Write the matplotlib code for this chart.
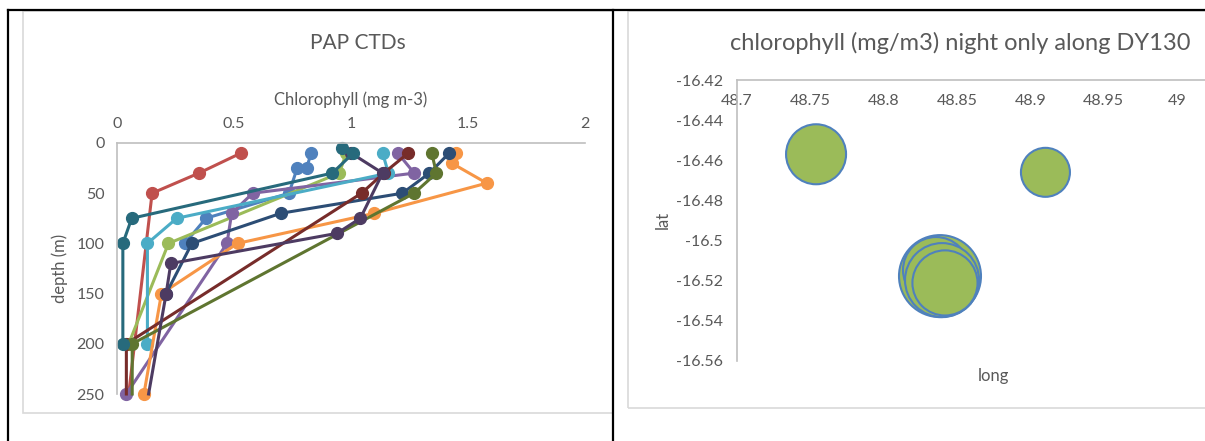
import matplotlib
matplotlib.use('Agg')
from matplotlib import pyplot as plt
from matplotlib.lines import Line2D
from matplotlib.patches import Rectangle

plt.rcParams['font.family'] = ['Lato', 'DejaVu Sans']

# ---- left chart: chlorophyll profiles (PAP CTDs) ----
blue_d = [10, 25, 25, 50, 75, 100]
blue_c = [0.83, 0.81, 0.77, 0.735, 0.38, 0.29]
red_d = [10, 30, 50, 250]
red_c = [0.53, 0.35, 0.15, 0.05]
green_d = [10, 30, 100, 200]
green_c = [0.98, 0.95, 0.22, 0.05]
purple_d = [10, 30, 50, 70, 100, 250]
purple_c = [1.2, 1.27, 0.58, 0.49, 0.47, 0.04]
aqua_d = [10, 30, 75, 100, 200]
aqua_c = [1.135, 1.16, 0.255, 0.13, 0.13]
orange_d = [10, 20, 40, 70, 100, 150, 250]
orange_c = [1.45, 1.43, 1.58, 1.10, 0.515, 0.19, 0.115]
dkblue_d = [10, 30, 50, 70, 100, 150]
dkblue_c = [1.42, 1.335, 1.22, 0.70, 0.32, 0.21]
dkred_d = [10, 30, 50, 200, 250]
dkred_c = [1.245, 1.14, 1.045, 0.04, 0.04]
dkgreen_d = [10, 30, 50, 200, 250]
dkgreen_c = [1.345, 1.365, 1.27, 0.065, 0.065]
dkpurple_d = [10, 30, 75, 90, 120, 150, 250]
dkpurple_c = [1.0, 1.135, 1.04, 0.94, 0.23, 0.21, 0.135]
dkteal_d = [5, 10, 30, 75, 100, 200]
dkteal_c = [0.96, 1.01, 0.92, 0.063, 0.025, 0.025]

chl_ticks = [0, 0.5, 1, 1.5, 2]
depth_ticks = [0, 50, 100, 150, 200, 250]

# ---- right chart: night chlorophyll bubbles along DY130 ----
longs = [48.7539, 48.9103, 48.8384, 48.8357, 48.8398, 48.8418]
lats = [-16.457, -16.466, -16.5177, -16.5147, -16.5197, -16.5211]
chl_night = [0.9, 0.60, 1.68, 1.09, 1.37, 1.06]

long_ticks = [48.7, 48.75, 48.8, 48.85, 48.9, 48.95, 49]
lat_ticks = [-16.42, -16.44, -16.46, -16.48, -16.5, -16.52, -16.54, -16.56]

W, H = 1205, 441
txt = '#595959'
grid = '#D9D9D9'


def fx(px):
    return px / W


def fy(py):
    return 1 - py / H


fig = plt.figure(figsize=(W / 100, H / 100), dpi=100)

# table lines and chart frames
fig.add_artist(Line2D([fx(8), fx(8)], [fy(9.5), fy(441)], color='black', lw=1.6))
fig.add_artist(Line2D([fx(8), fx(1205)], [fy(9.5), fy(9.5)], color='black', lw=1.6))
fig.add_artist(Rectangle((fx(23), fy(413)), fx(590), 402 / H, fill=False,
                         ec=grid, lw=1.2, transform=fig.transFigure))
fig.add_artist(Rectangle((fx(628), fy(408)), fx(600), 397 / H, fill=False,
                         ec=grid, lw=1.2, transform=fig.transFigure))
fig.add_artist(Line2D([fx(613), fx(613)], [fy(9.5), fy(441)], color='black', lw=1.6))

# left chart; some profiles run past the 250 m axis end, so no marker there
ax = fig.add_axes([fx(117), fy(394), fx(468), 251 / H])
profiles = [
    (blue_c, blue_d, '#4F81BD', True),
    (red_c, red_d, '#C0504D', False),
    (green_c, green_d, '#9BBB59', True),
    (purple_c, purple_d, '#8064A2', True),
    (aqua_c, aqua_d, '#4BACC6', True),
    (orange_c, orange_d, '#F79646', True),
    (dkblue_c, dkblue_d, '#2C4D75', True),
    (dkred_c, dkred_d, '#772C2A', False),
    (dkgreen_c, dkgreen_d, '#5F7530', False),
    (dkpurple_c, dkpurple_d, '#4D3B62', False),
    (dkteal_c, dkteal_d, '#276A7C', True),
]
for c, d, col, last_mark in profiles:
    n = len(c) if last_mark else len(c) - 1
    ax.plot(c, d, color=col, lw=2.2, marker='o', ms=8.5, clip_on=False,
            markevery=list(range(n)))
ax.set_xlim(0, 2)
ax.set_ylim(250, 0)
ax.set_xticks(chl_ticks)
ax.set_xticklabels(['0', '0.5', '1', '1.5', '2'])
ax.set_yticks(depth_ticks)
ax.xaxis.tick_top()
ax.xaxis.set_label_position('top')
ax.tick_params(length=0, labelsize=11.5, colors=txt, pad=9)
for s in ['right', 'bottom']:
    ax.spines[s].set_visible(False)
for s in ['left', 'top']:
    ax.spines[s].set_color('#BFBFBF')
    ax.spines[s].set_linewidth(1.2)
ax.set_xlabel('Chlorophyll (mg m-3)', fontsize=12, color=txt, labelpad=8)
ax.set_ylabel('depth (m)', fontsize=12, color=txt, labelpad=6)
fig.text(fx(358), fy(43), 'PAP CTDs', fontsize=15, color=txt, ha='center', va='center')

# right chart
bx = fig.add_axes([fx(737), fy(361), 0.35 * 1466.7 / W, 281 / H])
k = 2074
bx.scatter(longs, lats, s=[k * v for v in chl_night], c='#9BBB59',
           edgecolors='#4F81BD', linewidths=1.5, clip_on=False, zorder=3)
bx.set_xlim(48.7, 49.05)
bx.set_ylim(-16.56, -16.42)
bx.set_xticks(long_ticks)
bx.set_xticklabels(['48.7', '48.75', '48.8', '48.85', '48.9', '48.95', '49'])
bx.set_yticks(lat_ticks)
bx.set_yticklabels(['-16.42', '-16.44', '-16.46', '-16.48', '-16.5', '-16.52',
                    '-16.54', '-16.56'])
bx.xaxis.tick_top()
bx.tick_params(length=0, labelsize=11.5, colors=txt)
bx.tick_params(axis='x', pad=-20)
bx.tick_params(axis='y', pad=10)
for s in ['right', 'bottom']:
    bx.spines[s].set_visible(False)
for s in ['left', 'top']:
    bx.spines[s].set_color('#BFBFBF')
    bx.spines[s].set_linewidth(1.2)
fig.text(fx(663), fy(220), 'lat', fontsize=12, color=txt, rotation=90,
         ha='center', va='center')
fig.text(fx(993), fy(376), 'long', fontsize=12, color=txt, ha='center', va='center')
fig.text(fx(960), fy(43), 'chlorophyll (mg/m3) night only along DY130', fontsize=17,
         color=txt, ha='center', va='center')

fig.savefig('out.png', dpi=100)
